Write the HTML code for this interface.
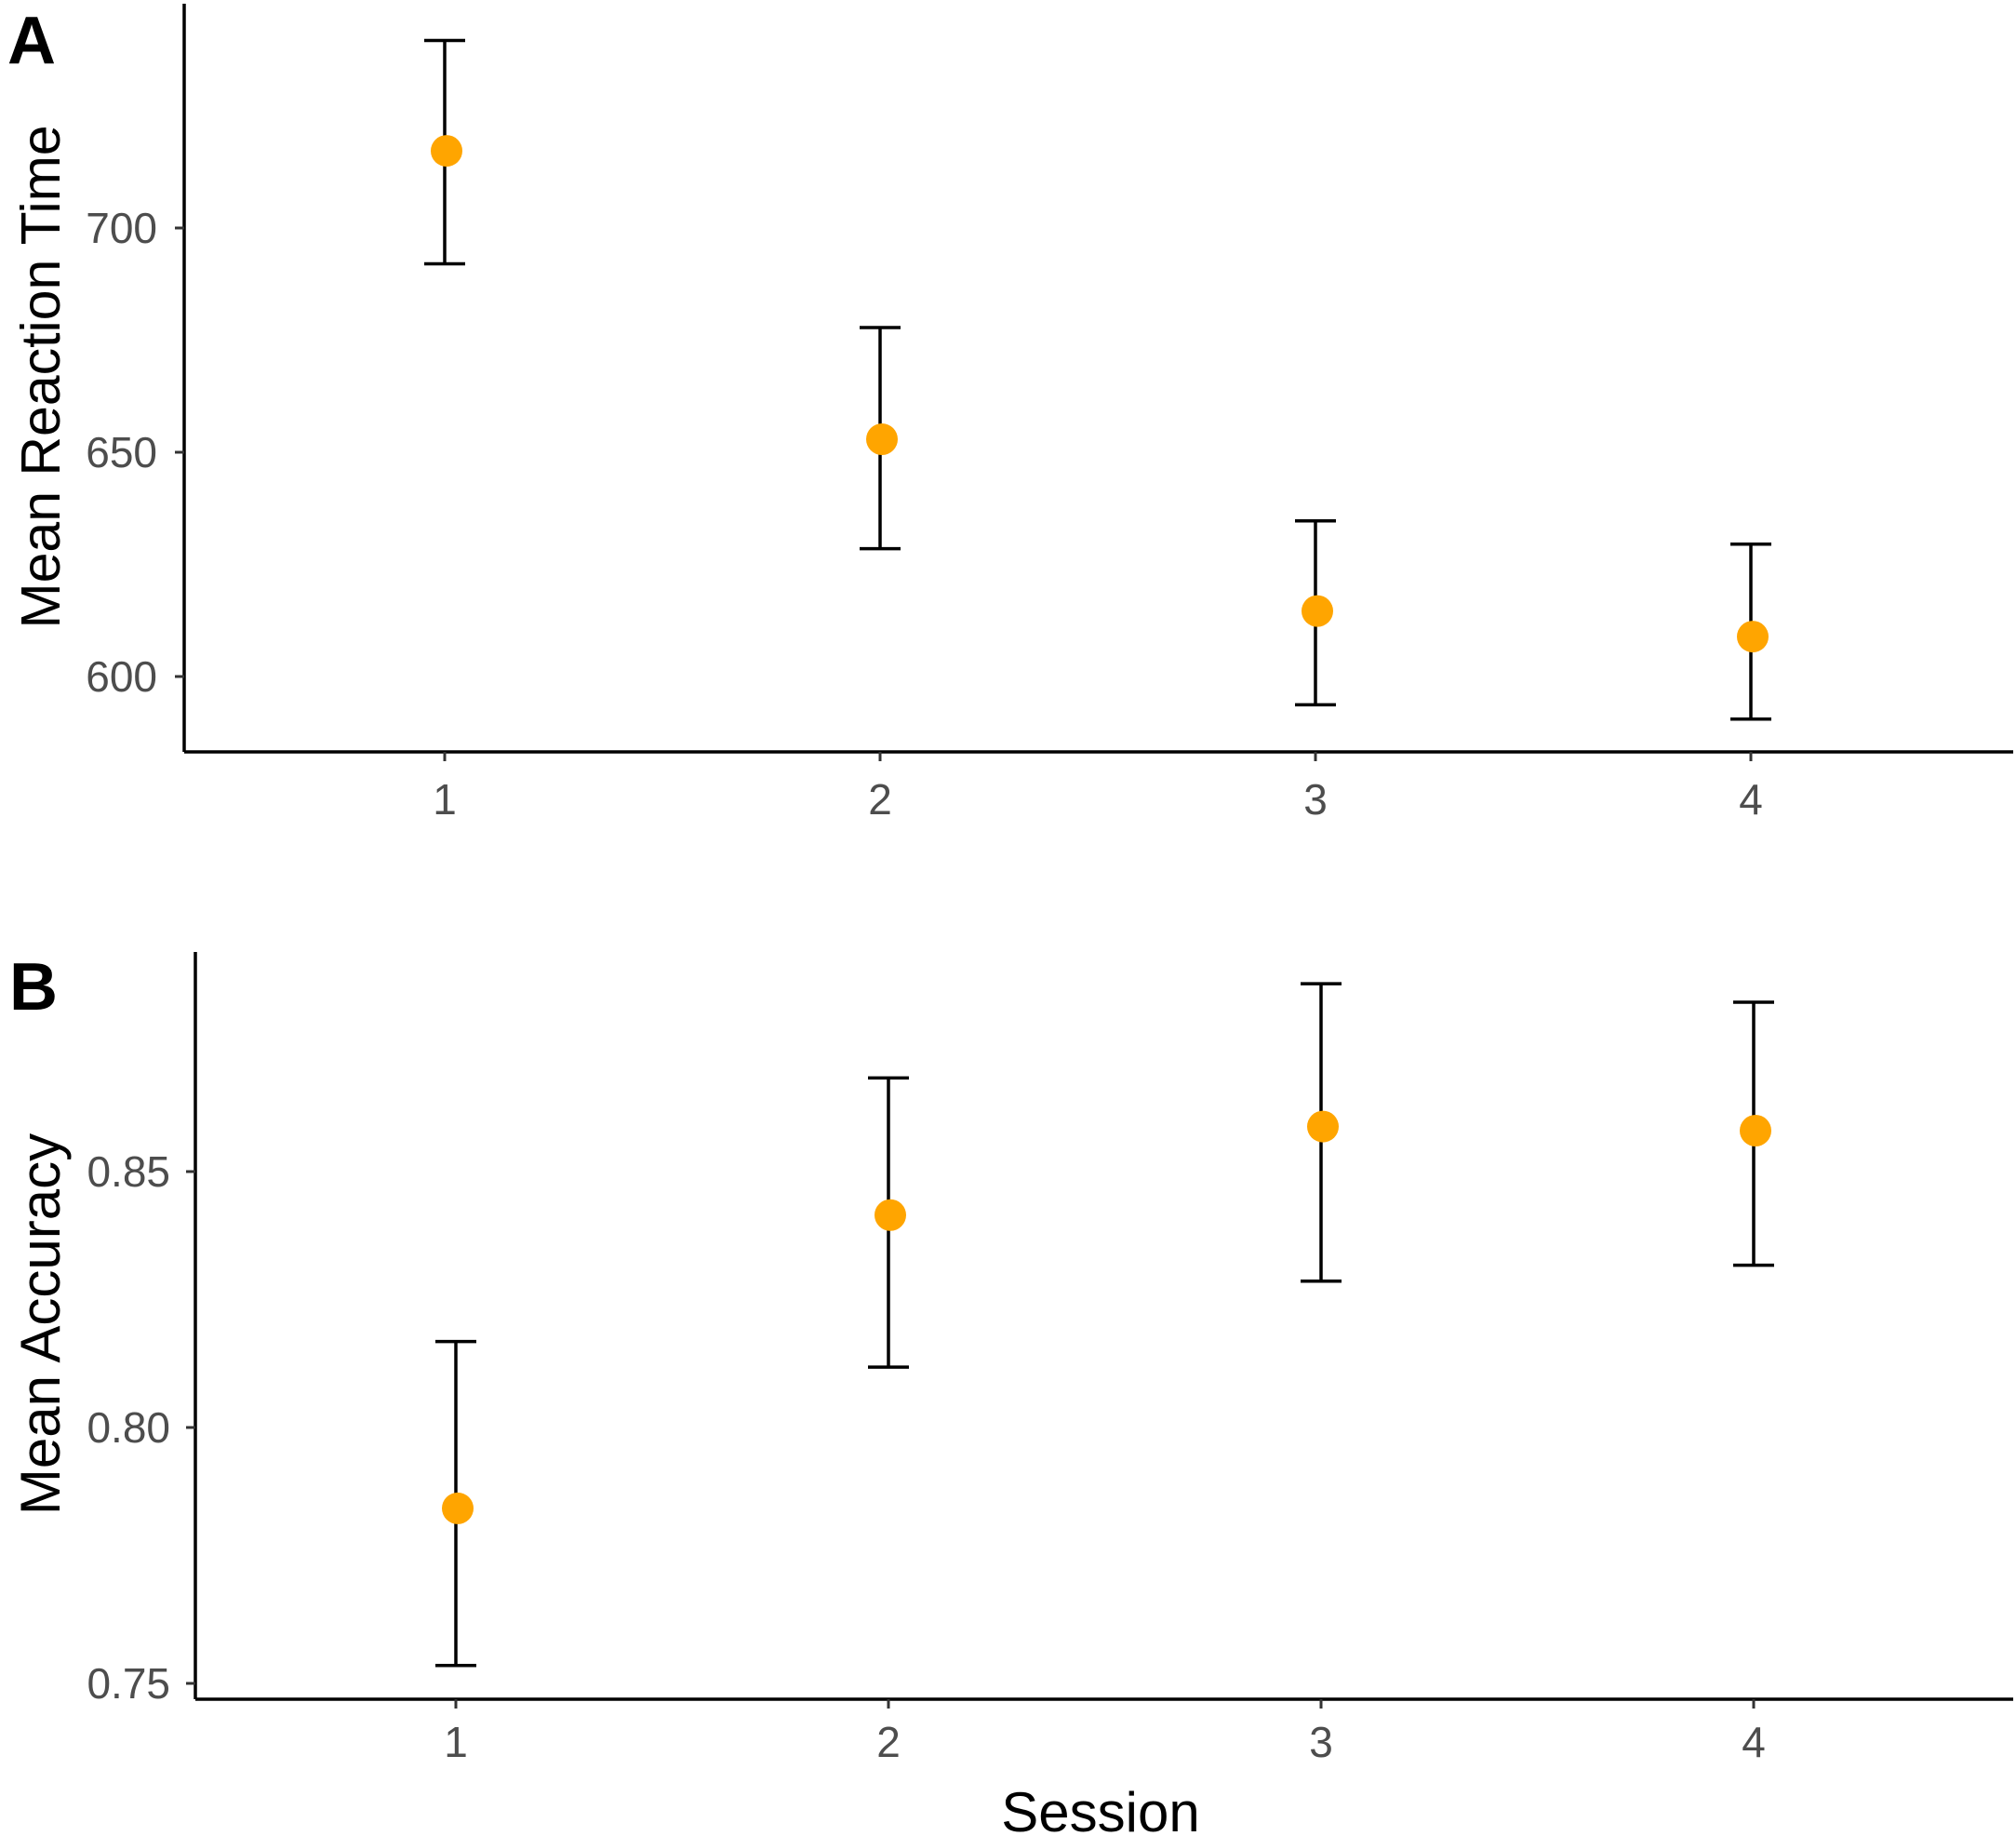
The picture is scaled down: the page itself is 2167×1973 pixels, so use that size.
<!DOCTYPE html>
<html><head><meta charset="utf-8">
<style>
html,body{margin:0;padding:0;background:#fff;}
svg{display:block;font-family:"Liberation Sans",Arial,sans-serif;}
</style></head>
<body>
<svg id="fig" width="2167" height="1973" viewBox="0 0 2167 1973" xmlns="http://www.w3.org/2000/svg">
  <text x="8" y="68" font-size="72" font-weight="bold" fill="#000">A</text>
  <text x="10" y="1085" font-size="72" font-weight="bold" fill="#000">B</text>
  <text transform="translate(64,405) rotate(-90)" text-anchor="middle" font-size="59" fill="#000">Mean Reaction Time</text>
  <text transform="translate(64,1423) rotate(-90)" text-anchor="middle" font-size="60" fill="#000">Mean Accuracy</text>
  <text x="1183" y="1968" text-anchor="middle" font-size="60" fill="#000">Session</text>
  <g id="pa"></g>
  <g id="pb"></g>
</svg>
<script>
const sessions = [1, 2, 3, 4];
const rtMean = [717.2, 652.9, 614.6, 608.9];
const rtUpper = [741.8, 677.8, 634.7, 629.5];
const rtLower = [692.0, 628.5, 593.7, 590.5];
const rtTicks = [600, 650, 700];
const accMean = [0.7842, 0.8415, 0.8588, 0.8580];
const accUpper = [0.8168, 0.8683, 0.8867, 0.8831];
const accLower = [0.7535, 0.8118, 0.8286, 0.8317];
const accTicks = [0.75, 0.80, 0.85];
const accTickLabels = ["0.75", "0.80", "0.85"];

const NS = "http://www.w3.org/2000/svg";
function mk(tag, attrs, parent) {
  const e = document.createElementNS(NS, tag);
  for (const k in attrs) e.setAttribute(k, attrs[k]);
  parent.appendChild(e);
  return e;
}
function panel(g, cfg, means, ups, lows, ticks, tickLabels, key) {
  const xs = s => cfg.x1 + (s - 1) * cfg.xStep;
  const ys = v => cfg.yRef + (cfg.vRef - v) * cfg.pxPerUnit;
  let e;
  e = mk('line', {x1: cfg.left, y1: cfg.top, x2: cfg.left, y2: cfg.bottom, stroke: '#000', 'stroke-width': 3.5}, g);
  
  
  e = mk('line', {x1: cfg.left, y1: cfg.bottom, x2: 2164, y2: cfg.bottom, stroke: '#000', 'stroke-width': 3.5}, g);
  
  
  ticks.forEach((t, i) => {
    const y = ys(t);
    e = mk('line', {x1: cfg.left - 10, y1: y, x2: cfg.left, y2: y, stroke: '#333', 'stroke-width': 3}, g);
    
    
    e = mk('text', {x: cfg.left - cfg.lblGap, y: y + 16, 'text-anchor': 'end', 'font-size': 46, fill: '#4d4d4d'}, g);
    e.textContent = tickLabels[i];
    
    
  });
  sessions.forEach((s, i) => {
    const x = xs(s);
    e = mk('line', {x1: x, y1: cfg.bottom, x2: x, y2: cfg.bottom + 10, stroke: '#333', 'stroke-width': 3}, g);
    
    
    e = mk('text', {x: x, y: cfg.bottom + cfg.xlblOff, 'text-anchor': 'middle', 'font-size': 46, fill: '#4d4d4d'}, g);
    e.textContent = String(s);
    
    
    const yu = ys(ups[i]), yl = ys(lows[i]), ym = ys(means[i]);
    const eb = mk('g', {stroke: '#000', 'stroke-width': 3.5}, g);
    
    
    mk('line', {x1: x, y1: yu, x2: x, y2: yl}, eb);
    mk('line', {x1: x - 22, y1: yu, x2: x + 22, y2: yu}, eb);
    mk('line', {x1: x - 22, y1: yl, x2: x + 22, y2: yl}, eb);
    e = mk('circle', {cx: x + 2, cy: ym, r: 17, fill: '#FFA500'}, g);
    
    
  });
}
panel(document.getElementById('pa'),
  {left: 198, top: 4, bottom: 808, x1: 478, xStep: 468, yRef: 727, vRef: 600, pxPerUnit: 4.82, lblGap: 29, xlblOff: 67},
  rtMean, rtUpper, rtLower, rtTicks, rtTicks.map(String), 'rt');
panel(document.getElementById('pb'),
  {left: 210, top: 1023, bottom: 1826, x1: 490, xStep: 465, yRef: 1809, vRef: 0.75, pxPerUnit: 5500, lblGap: 27, xlblOff: 62},
  accMean, accUpper, accLower, accTicks, accTickLabels, 'acc');
</script>
</body></html>
